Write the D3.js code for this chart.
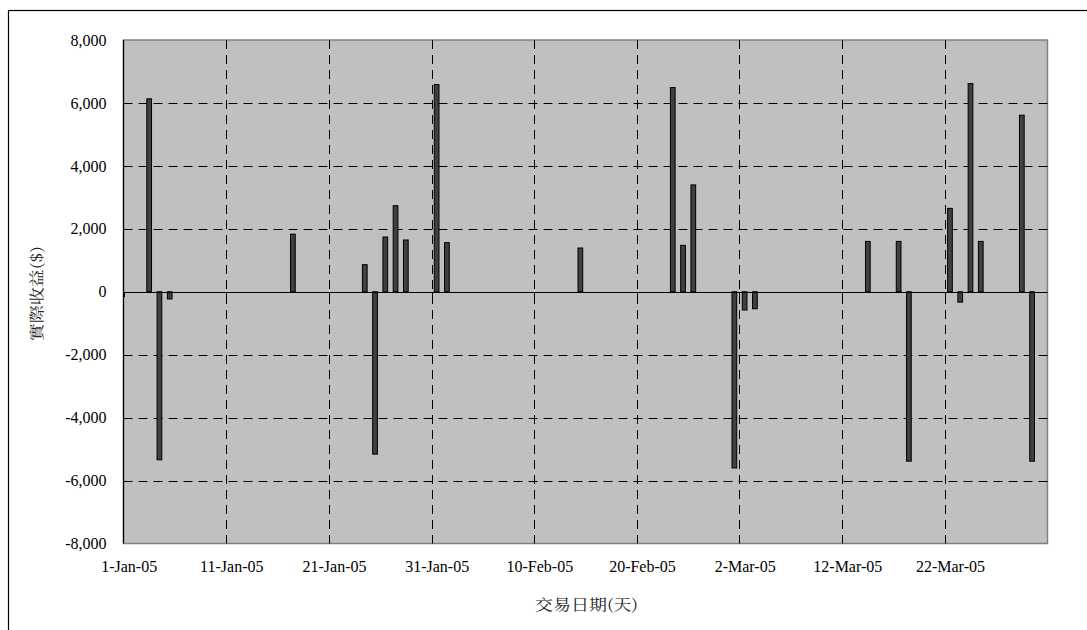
<!DOCTYPE html>
<html>
<head>
<meta charset="utf-8">
<script src="https://cdn.jsdelivr.net/npm/d3@7"></script>
<style>
  html, body { margin: 0; padding: 0; background: #fff; }
  svg { display: block; }
</style>
</head>
<body>
<svg id="chart" width="1087" height="630"></svg>
<script>
// Daily realised profit/loss per trade day
const tradeDates = [
  "2005-01-03", "2005-01-04", "2005-01-05", "2005-01-17", "2005-01-24",
  "2005-01-25", "2005-01-26", "2005-01-27", "2005-01-28", "2005-01-31",
  "2005-02-01", "2005-02-14", "2005-02-23", "2005-02-24", "2005-02-25",
  "2005-03-01", "2005-03-02", "2005-03-03", "2005-03-14", "2005-03-17",
  "2005-03-18", "2005-03-22", "2005-03-23", "2005-03-24", "2005-03-25",
  "2005-03-29", "2005-03-30"
];
const profits = [
  6130, -5340, -230, 1830, 860,
  -5160, 1740, 2735, 1645, 6585,
  1560, 1390, 6490, 1475, 3395,
  -5600, -580, -540, 1600, 1600,
  -5385, 2650, -330, 6615, 1600,
  5610, -5385
];

// Axis ticks
const xTickDates = [
  "2005-01-01", "2005-01-11", "2005-01-21", "2005-01-31", "2005-02-10",
  "2005-02-20", "2005-03-02", "2005-03-12", "2005-03-22"
];
const xDomain = ["2005-01-01", "2005-04-01"];
const yTicks = [-8000, -6000, -4000, -2000, 0, 2000, 4000, 6000, 8000];

const xTitle = "交易日期(天)";
const yTitle = "實際收益($)";

const SERIF = "'Liberation Serif', 'Times New Roman', serif";
const CJK = "'Noto Serif CJK TC', 'Noto Sans CJK TC', serif";

const parse = d3.utcParse("%Y-%m-%d");
const DAY = 24 * 3600 * 1000;

const svg = d3.select("#chart");
const plot = { left: 123.5, right: 1047.5, top: 40, bottom: 543.5 };

// Chart area frame
svg.append("rect")
  .attr("x", 8.5).attr("y", 10.5)
  .attr("width", 1200).attr("height", 800)
  .attr("fill", "#fff").attr("stroke", "#000").attr("stroke-width", 1.2);

const x = d3.scaleUtc()
  .domain(xDomain.map(parse))
  .range([plot.left, plot.right]);
const y = d3.scaleLinear()
  .domain([-8000, 8000])
  .range([plot.bottom, plot.top]);

const locale = d3.formatLocale({
  decimal: ".", thousands: ",", grouping: [3], currency: ["$", ""], minus: "-"
});
const fmtY = locale.format(",");
const fmtDate = d3.utcFormat("%-d-%b-%y");

// Plot area background
svg.append("rect")
  .attr("x", plot.left).attr("y", plot.top)
  .attr("width", plot.right - plot.left).attr("height", plot.bottom - plot.top)
  .attr("fill", "#c0c0c0").attr("stroke", "#808080").attr("stroke-width", 1.5);

// Horizontal gridlines
svg.append("g")
  .selectAll("line")
  .data(yTicks.filter(v => v !== 0 && v !== -8000 && v !== 8000))
  .join("line")
  .attr("x1", plot.left).attr("x2", plot.right)
  .attr("y1", d => Math.round(y(d)) + 0.5).attr("y2", d => Math.round(y(d)) + 0.5)
  .attr("stroke", "#000").attr("stroke-width", 1)
  .attr("stroke-dasharray", "9,6");

// Vertical gridlines at each 10-day boundary
svg.append("g")
  .selectAll("line")
  .data(xTickDates.slice(1).map(parse))
  .join("line")
  .attr("x1", d => Math.round(x(d)) + 0.5).attr("x2", d => Math.round(x(d)) + 0.5)
  .attr("y1", plot.top).attr("y2", plot.bottom)
  .attr("stroke", "#000").attr("stroke-width", 1)
  .attr("stroke-dasharray", "9,6");

// Bars, centred in each day's slot
const dayW = x(new Date(parse(xDomain[0]).getTime() + DAY)) - x(parse(xDomain[0]));
const barW = dayW * 0.46;
const bars = tradeDates.map((d, i) => ({ date: parse(d), value: profits[i] }));

svg.append("g")
  .selectAll("rect")
  .data(bars)
  .join("rect")
  .attr("x", d => x(new Date(d.date.getTime() + DAY / 2)) - barW / 2)
  .attr("y", d => y(Math.max(0, d.value)))
  .attr("width", barW)
  .attr("height", d => Math.abs(y(d.value) - y(0)))
  .attr("fill", "#404040")
  .attr("stroke", "#000")
  .attr("stroke-width", 1);

// Zero line (category axis crosses here)
svg.append("line")
  .attr("x1", plot.left).attr("x2", plot.right)
  .attr("y1", Math.round(y(0)) + 0.5).attr("y2", Math.round(y(0)) + 0.5)
  .attr("stroke", "#000").attr("stroke-width", 1.2);

// Small tick marks on the zero line
svg.append("g")
  .selectAll("line")
  .data(xTickDates.map(parse))
  .join("line")
  .attr("x1", d => Math.round(x(d)) + 0.5).attr("x2", d => Math.round(x(d)) + 0.5)
  .attr("y1", Math.round(y(0))).attr("y2", Math.round(y(0)) + 5)
  .attr("stroke", "#000").attr("stroke-width", 1);

// Left value axis line
svg.append("line")
  .attr("x1", plot.left).attr("x2", plot.left)
  .attr("y1", plot.top).attr("y2", plot.bottom)
  .attr("stroke", "#000").attr("stroke-width", 1.2);

// Y axis labels
const yAxis = d3.axisLeft(y).tickValues(yTicks).tickFormat(fmtY).tickSize(0).tickPadding(17);
const gy = svg.append("g").attr("transform", `translate(${plot.left},0)`).call(yAxis);
gy.select(".domain").remove();
gy.selectAll("text")
  .style("font-family", SERIF).style("font-size", "16px").style("fill", "#000");

// X axis labels, centred in the labelled day
const xAxis = d3.axisBottom(x)
  .tickValues(xTickDates.map(d => new Date(parse(d).getTime() + DAY / 2)))
  .tickFormat(fmtDate).tickSize(0).tickPadding(17);
const gx = svg.append("g").attr("transform", `translate(0,${plot.bottom})`).call(xAxis);
gx.select(".domain").remove();
gx.selectAll("text")
  .style("font-family", SERIF).style("font-size", "16px").style("fill", "#000");

// Axis titles (wide-set CJK glyphs)
svg.append("text")
  .attr("transform", `translate(${(plot.left + plot.right) / 2 + 1},610) scale(1.2,1)`)
  .attr("text-anchor", "middle")
  .style("font-family", CJK).style("font-size", "15px").style("fill", "#222")
  .text(xTitle);

svg.append("text")
  .attr("transform", `translate(42,${(plot.top + plot.bottom) / 2 + 2}) rotate(-90) scale(1.2,1)`)
  .attr("text-anchor", "middle")
  .style("font-family", CJK).style("font-size", "15px").style("fill", "#222")
  .text(yTitle);
</script>
</body>
</html>
